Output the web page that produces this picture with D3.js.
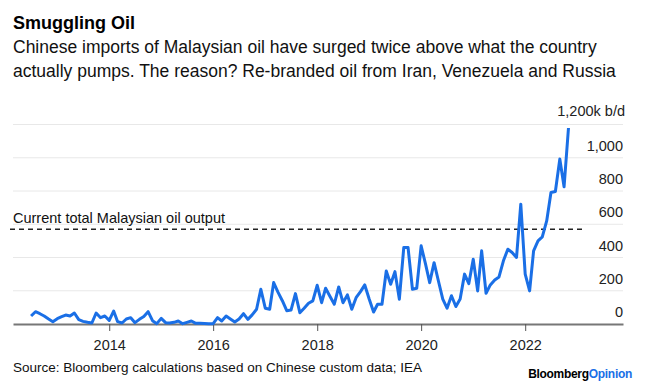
<!DOCTYPE html>
<html>
<head>
<meta charset="utf-8">
<script src="https://cdn.jsdelivr.net/npm/d3@7"></script>
<style>
  body { margin: 0; background: #fff; }
  svg { display: block; font-family: "Liberation Sans", Arial, sans-serif; }
</style>
</head>
<body>
<div id="chart"></div>
<script>
(function () {

    // monthly Chinese imports of Malaysian oil, k b/d, Jul 2012 - Nov 2022
    var firstMonth = new Date(2012, 6, 1);
    var imports = [
        48, 74, 62, 48, 30, 14, 32, 44, 54, 48, 66, 26,
        16, 10, 6, 66, 38, 48, 22, 78, 14, 6, 30, 38,
        8, 28, 45, 74, 20, 2, 34, 8, 6, 10, 18, 2,
        10, 18, 4, 4, 3, 2, 2, 38, 18, 48, 30, 12,
        30, 62, 28, 55, 89, 209, 95, 89, 249, 190, 140, 80,
        84, 183, 68, 95, 125, 139, 233, 128, 215, 165, 119, 223,
        128, 175, 89, 158, 195, 235, 150, 72, 119, 119, 319, 239,
        315, 149, 460, 460, 209, 215, 470, 360, 249, 369, 260, 150,
        95, 170, 105, 150, 300, 243, 390, 199, 440, 185, 235, 265,
        283, 380, 450, 430, 400, 721, 300, 199, 440, 500, 524, 620,
        791, 797, 992, 825, 1179
    ];
    var malaysiaOutput = 570;

    var yTicks = [0, 200, 400, 600, 800, 1000, 1200];
    var yTickLabels = ["0", "200", "400", "600", "800", "1,000", "1,200k b/d"];
    var xTickYears = [2014, 2016, 2018, 2020, 2022];

    var title = "Smuggling Oil";
    var subtitle = ["Chinese imports of Malaysian oil have surged twice above what the country",
        "actually pumps. The reason? Re-branded oil from Iran, Venezuela and Russia"];
    var source = "Source: Bloomberg calculations based on Chinese custom data; IEA";
    var outputLabel = "Current total Malaysian oil output";

    var width = 646, height = 385;
    var left = 13, right = 623, top = 124.5, bottom = 324;

    var data = imports.map(function (v, i) {
        return { date: d3.timeMonth.offset(firstMonth, i), value: v };
    });

    var x = d3.scaleTime()
        .domain([new Date(2012, 1, 25), new Date(2023, 10, 19)])
        .range([left, right]);

    var y = d3.scaleLinear()
        .domain([0, 1200])
        .range([bottom, top]);

    var svg = d3.select("#chart").append("svg")
        .attr("width", width)
        .attr("height", height);

    // title + subtitle
    svg.append("text")
        .attr("x", 13).attr("y", 29)
        .style("font-size", "18px").style("font-weight", "bold")
        .attr("fill", "#000")
        .text(title);

    svg.selectAll(".sub")
        .data(subtitle)
        .enter().append("text")
        .attr("class", "sub")
        .attr("x", 13)
        .attr("y", function (d, i) { return 53 + i * 24; })
        .style("font-size", "17.5px")
        .attr("fill", "#111")
        .text(function (d) { return d; });

    // gridlines
    svg.selectAll(".grid")
        .data(yTicks.slice(1))
        .enter().append("line")
        .attr("class", "grid")
        .attr("x1", left).attr("x2", right)
        .attr("y1", function (d) { return y(d); })
        .attr("y2", function (d) { return y(d); })
        .attr("stroke", "#e8e8e8")
        .attr("stroke-width", 1);

    // y labels sit just above their gridline, right aligned
    svg.selectAll(".ylab")
        .data(yTicks)
        .enter().append("text")
        .attr("class", "ylab")
        .attr("x", function (d, i) { return i == yTicks.length - 1 ? right + 2 : right; })
        .attr("y", function (d, i) { return i == yTicks.length - 1 ? y(d) - 9 : y(d) - 7; })
        .attr("text-anchor", "end")
        .style("font-size", "14.5px")
        .attr("fill", "#222")
        .text(function (d, i) { return yTickLabels[i]; });

    // x axis
    var xAxis = d3.axisBottom(x)
        .tickValues(xTickYears.map(function (yr) { return new Date(yr, 0, 1); }))
        .tickFormat(d3.timeFormat("%Y"))
        .tickSize(7)
        .tickSizeOuter(0)
        .tickPadding(9);

    var gx = svg.append("g")
        .attr("transform", "translate(0," + bottom + ")")
        .call(xAxis);
    gx.select(".domain").attr("stroke", "#777").attr("stroke-width", 2);
    gx.selectAll(".tick line").attr("stroke", "#555").attr("stroke-width", 1);
    gx.selectAll(".tick text")
        .style("font-size", "14.5px")
        .style("font-family", "Liberation Sans, Arial, sans-serif")
        .attr("fill", "#222");

    // malaysian output reference line
    svg.append("line")
        .attr("x1", 10).attr("x2", 585)
        .attr("y1", y(malaysiaOutput)).attr("y2", y(malaysiaOutput))
        .attr("stroke", "#222")
        .attr("stroke-width", 1.5)
        .attr("stroke-dasharray", "5,4");

    svg.append("text")
        .attr("x", 13).attr("y", y(malaysiaOutput) - 6)
        .style("font-size", "14.5px")
        .attr("fill", "#111")
        .text(outputLabel);

    // import line
    var line = d3.line()
        .x(function (d) { return x(d.date); })
        .y(function (d) { return y(d.value); });

    svg.append("path")
        .datum(data)
        .attr("d", line)
        .attr("fill", "none")
        .attr("stroke", "#1a6fe6")
        .attr("stroke-width", 3)
        .attr("stroke-linejoin", "round");

    // footer
    svg.append("text")
        .attr("x", 13).attr("y", 372)
        .style("font-size", "13.5px")
        .attr("fill", "#111")
        .text(source);

    var brand = svg.append("text")
        .attr("x", 632).attr("y", 378)
        .attr("text-anchor", "end")
        .style("font-size", "12px")
        .style("font-weight", "bold")
        .style("letter-spacing", "-0.3px");
    brand.append("tspan").attr("fill", "#000").text("Bloomberg");
    brand.append("tspan").attr("fill", "#1a6fe6").text("Opinion");

})();
</script>
</body>
</html>
